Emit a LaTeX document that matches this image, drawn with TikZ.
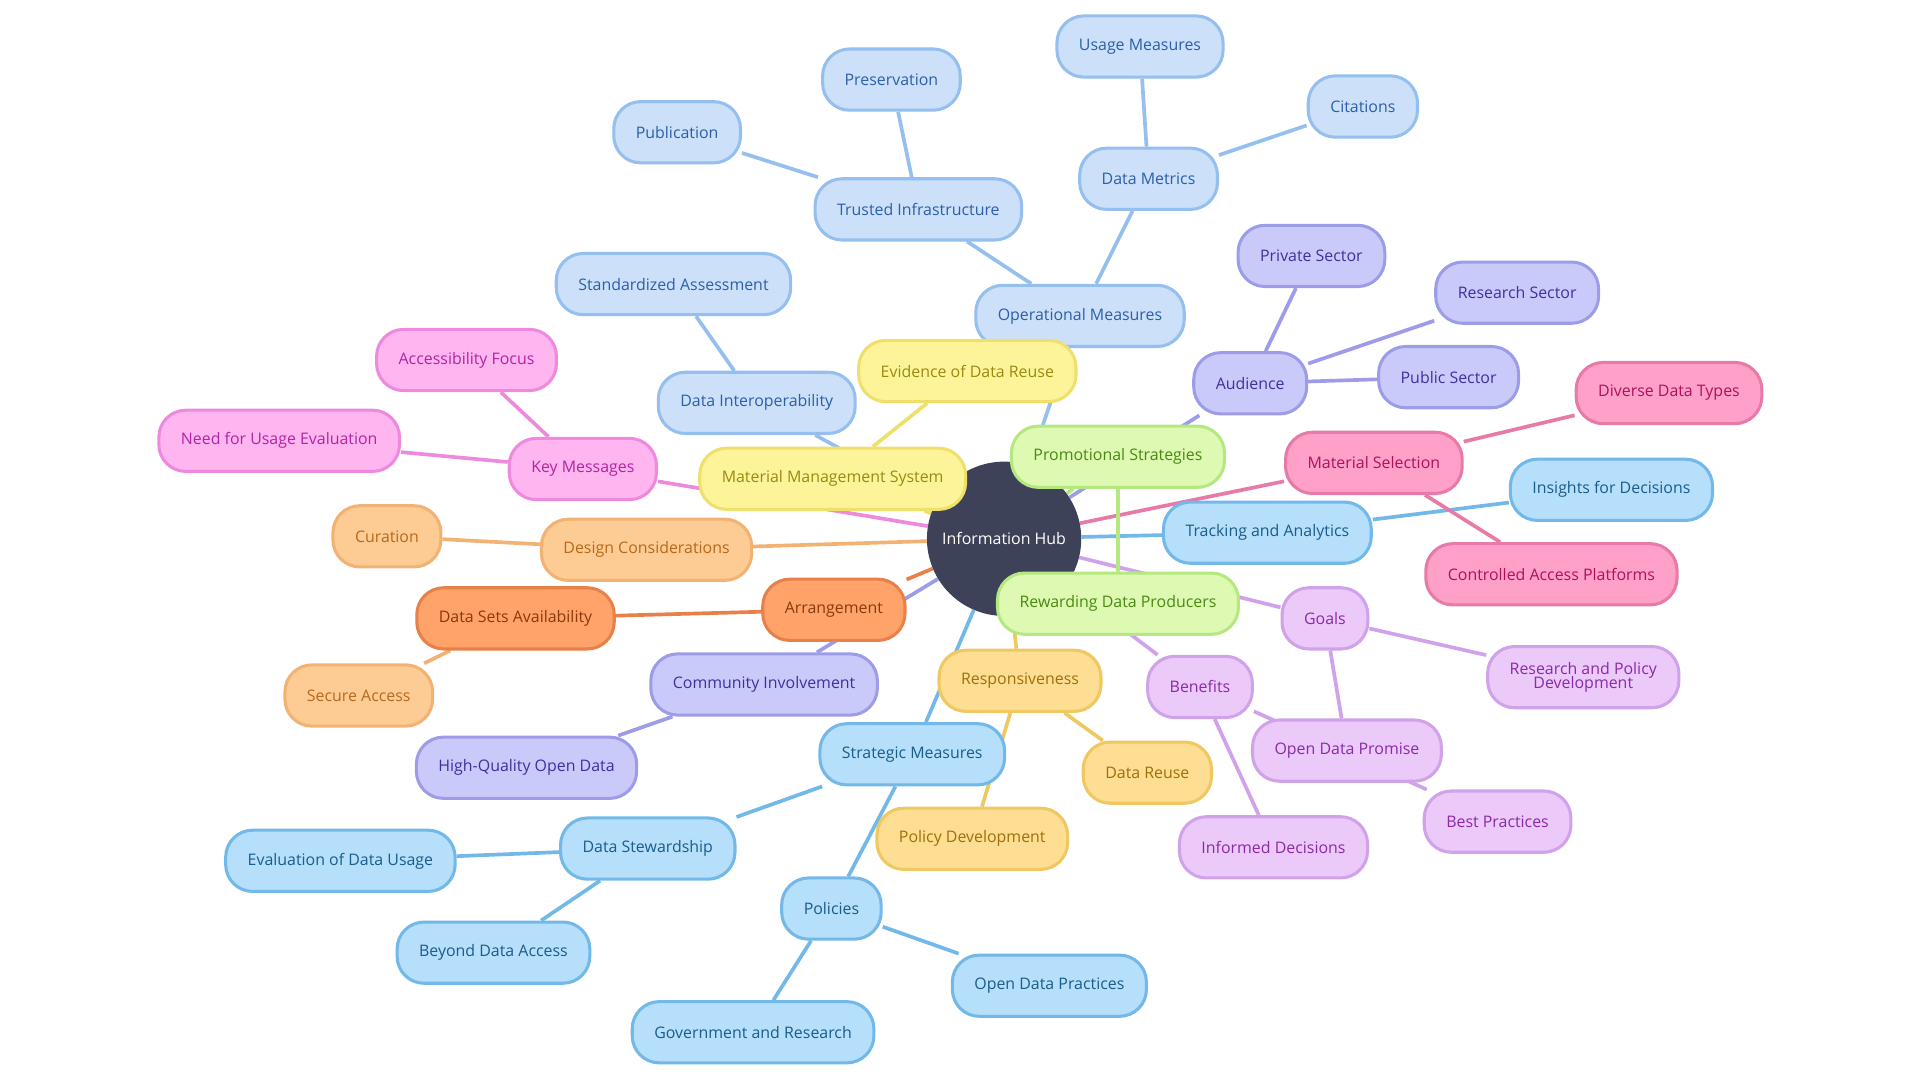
\documentclass[tikz,border=0pt]{standalone}
\usepackage{fontspec}
\setmainfont{Open Sans}
\usetikzlibrary{backgrounds}
\definecolor{bF}{HTML}{CCE0FA}\definecolor{bD}{HTML}{94BFEE}\definecolor{bT}{HTML}{2B5FAA}
\definecolor{sF}{HTML}{B5DFFB}\definecolor{sD}{HTML}{72B8E8}\definecolor{sT}{HTML}{1A5C8A}
\definecolor{lF}{HTML}{CACAFA}\definecolor{lD}{HTML}{9C9CE8}\definecolor{lT}{HTML}{3A32A0}
\definecolor{pF}{HTML}{FFB5F0}\definecolor{pD}{HTML}{EE8ADD}\definecolor{pT}{HTML}{B026A0}
\definecolor{oF}{HTML}{FDCB94}\definecolor{oD}{HTML}{F2B274}\definecolor{oT}{HTML}{B86A1A}
\definecolor{dF}{HTML}{FFA36B}\definecolor{dD}{HTML}{E8804A}\definecolor{dT}{HTML}{8A3A0A}
\definecolor{yF}{HTML}{FDF49A}\definecolor{yD}{HTML}{EEE06A}\definecolor{yT}{HTML}{9A8A10}
\definecolor{gF}{HTML}{DDF9B2}\definecolor{gD}{HTML}{B6E882}\definecolor{gT}{HTML}{4A8A10}
\definecolor{hF}{HTML}{FFA0C8}\definecolor{hD}{HTML}{E87AA8}\definecolor{hT}{HTML}{B0105A}
\definecolor{vF}{HTML}{EBC9F8}\definecolor{vD}{HTML}{D0A2EA}\definecolor{vT}{HTML}{8A2AAA}
\definecolor{kF}{HTML}{FDDE92}\definecolor{kD}{HTML}{F0C862}\definecolor{kT}{HTML}{A0700A}
\definecolor{hub}{HTML}{3E4259}
\tikzset{
 box/.style={rounded corners=22pt,line width=2.5pt,minimum height=50pt,inner xsep=18pt,align=center,font=\fontsize{13}{14}\selectfont},
 cb/.style={box,fill=bF,draw=bD,text=bT}, cs/.style={box,fill=sF,draw=sD,text=sT},
 cl/.style={box,fill=lF,draw=lD,text=lT}, cp/.style={box,fill=pF,draw=pD,text=pT},
 co/.style={box,fill=oF,draw=oD,text=oT}, cd/.style={box,fill=dF,draw=dD,text=dT},
 cy/.style={box,fill=yF,draw=yD,text=yT}, cg/.style={box,fill=gF,draw=gD,text=gT},
 ch/.style={box,fill=hF,draw=hD,text=hT}, cv/.style={box,fill=vF,draw=vD,text=vT},
 ck/.style={box,fill=kF,draw=kD,text=kT},
 ed/.style={line width=3pt}
}
\begin{document}
\begin{tikzpicture}[x=1pt,y=1pt]
\useasboundingbox (0,0) rectangle (1568,-882);
\node[circle,fill=hub,minimum size=126pt,text=white,font=\fontsize{13}{14}\selectfont] (hub) at (820,-440) {Information Hub};
% blue
\node[cb] (om) at (882,-258) {Operational Measures};
\node[cb] (ti) at (750,-171) {Trusted Infrastructure};
\node[cb] (pub) at (553,-108) {Publication};
\node[cb] (pre) at (728,-65) {Preservation};
\node[cb] (dm) at (938,-146) {Data Metrics};
\node[cb] (um) at (931,-38) {Usage Measures};
\node[cb] (cit) at (1113,-87) {Citations};
\node[cb] (di) at (618,-329) {Data Interoperability};
\node[cb] (sa) at (550,-232) {Standardized Assessment};
% pink
\node[cp] (km) at (476,-383) {Key Messages};
\node[cp] (af) at (381,-294) {Accessibility Focus};
\node[cp] (nu) at (228,-360) {Need for Usage Evaluation};
% orange
\node[co] (dc) at (528,-449) {Design Considerations};
\node[co] (cur) at (316,-438) {Curation};
\node[cd] (arr) at (681,-498) {Arrangement};
\node[cd] (dsa) at (421,-505) {Data Sets Availability};
\node[co] (sec) at (293,-568) {Secure Access};
% lavender
\node[cl] (ci) at (624,-559) {Community Involvement};
\node[cl] (hq) at (430,-627) {High-Quality Open Data};
\node[cl] (aud) at (1021,-313) {Audience};
\node[cl] (prs) at (1071,-209) {Private Sector};
\node[cl] (rs) at (1239,-239) {Research Sector};
\node[cl] (pus) at (1183,-308) {Public Sector};
% gold
\node[ck] (resp) at (833,-556) {Responsiveness};
\node[ck] (dr) at (937,-631) {Data Reuse};
\node[ck] (pd) at (794,-685) {Policy Development};
% sky
\node[cs] (sm) at (745,-616) {Strategic Measures};
\node[cs] (ds) at (529,-693) {Data Stewardship};
\node[cs] (ev) at (278,-703) {Evaluation of Data Usage};
\node[cs] (bd) at (403,-778) {Beyond Data Access};
\node[cs] (pol) at (679,-742) {Policies};
\node[cs] (odp) at (857,-805) {Open Data Practices};
\node[cs] (gr) at (615,-843) {Government and Research};
\node[cs] (ta) at (1035,-435) {Tracking and Analytics};
\node[cs] (ins) at (1316,-400) {Insights for Decisions};
% hot pink
\node[ch] (ms) at (1122,-378) {Material Selection};
\node[ch] (ddt) at (1363,-321) {Diverse Data Types};
\node[ch] (cap) at (1267,-469) {Controlled Access Platforms};
% violet
\node[cv] (goals) at (1082,-505) {Goals};
\node[cv] (rpd) at (1293,-553) {Research and Policy\\[-3pt]Development};
\node[cv] (odpr) at (1100,-613) {Open Data Promise};
\node[cv] (ben) at (980,-561) {Benefits};
\node[cv] (bp) at (1223,-671) {Best Practices};
\node[cv] (id) at (1040,-692) {Informed Decisions};
% yellow & green
\node[cy] (mms) at (680,-391) {Material Management System};
\node[cy] (edr) at (790,-303) {Evidence of Data Reuse};
\node[cg] (ps) at (913,-373) {Promotional Strategies};
\node[cg] (rdp) at (913,-493) {Rewarding Data Producers};
\begin{scope}[on background layer]
\draw[ed,bD] (hub)--(om) (om)--(ti) (ti)--(pub) (ti)--(pre) (om)--(dm) (dm)--(um) (dm)--(cit) (hub)--(di) (di)--(sa);
\draw[ed,pD] (hub)--(km) (km)--(af) (km)--(nu);
\draw[ed,oD] (hub)--(dc) (dc)--(cur) (dsa)--(sec);
\draw[ed,dD] (hub)--(arr) (arr)--(dsa);
\draw[ed,lD] (hub)--(ci) (ci)--(hq) (hub)--(aud) (aud)--(prs) (aud)--(rs) (aud)--(pus);
\draw[ed,kD] (hub)--(resp) (resp)--(dr) (resp)--(pd);
\draw[ed,sD] (hub)--(sm) (sm)--(ds) (ds)--(ev) (ds)--(bd) (sm)--(pol) (pol)--(odp) (pol)--(gr) (hub)--(ta) (ta)--(ins);
\draw[ed,hD] (hub)--(ms) (ms)--(ddt) (ms)--(cap);
\draw[ed,vD] (hub)--(goals) (goals)--(rpd) (goals)--(odpr) (hub)--(ben) (ben)--(bp) (ben)--(id);
\draw[ed,yD] (hub)--(mms) (mms)--(edr);
\draw[ed,gD] (hub)--(ps) (ps)--(rdp);
\end{scope}
\end{tikzpicture}
\end{document}
